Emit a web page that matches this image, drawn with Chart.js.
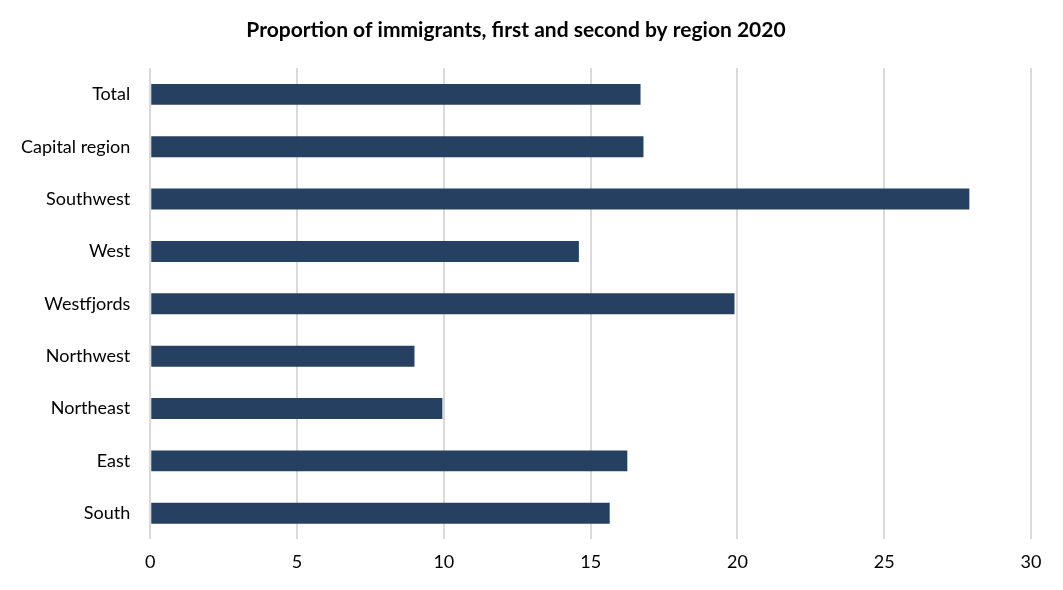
<!DOCTYPE html>
<html>
<head>
<meta charset="utf-8">
<script src="https://cdn.jsdelivr.net/npm/chart.js@4/dist/chart.umd.min.js"></script>
<style>
    html, body { margin: 0; padding: 0; background: #fff; }
    #wrap { width: 1063px; height: 590px; position: relative; }
</style>
</head>
<body>
<div id="wrap"><canvas id="chart"></canvas></div>
<script>
var regions = ['Total', 'Capital region', 'Southwest', 'West', 'Westfjords', 'Northwest', 'Northeast', 'East', 'South'];
var shares = [16.7, 16.8, 27.9, 14.6, 19.9, 9.0, 9.95, 16.25, 15.65];
var xTicks = [0, 5, 10, 15, 20, 25, 30];

var ctx = document.getElementById('chart');
new Chart(ctx, {
    type: 'bar',
    data: {
        labels: regions,
        datasets: [{
            label: 'Proportion',
            data: shares,
            backgroundColor: '#264061',
            categoryPercentage: 1,
            barPercentage: 0.4
        }]
    },
    options: {
        indexAxis: 'y',
        responsive: true,
        maintainAspectRatio: false,
        animation: false,
        layout: { padding: { top: 4, right: 32, bottom: 5, left: 1 } },
        plugins: {
            legend: { display: false },
            tooltip: { enabled: false },
            title: {
                display: true,
                text: 'Proportion of immigrants, first and second by region 2020',
                color: '#000',
                font: { family: 'Lato', size: 21, weight: 'bold' },
                padding: { top: 14, bottom: 25 }
            }
        },
        scales: {
            x: {
                min: 0,
                max: 30,
                afterBuildTicks: function(axis) {
                    axis.ticks = xTicks.map(function(v) { return { value: v }; });
                },
                grid: {
                    color: '#d9d9d9',
                    lineWidth: 2,
                    drawTicks: false
                },
                border: { display: false },
                ticks: {
                    color: '#000',
                    padding: 12,
                    font: { family: 'Lato', size: 18 }
                }
            },
            y: {
                grid: { display: false, drawTicks: false },
                border: { display: false },
                ticks: {
                    color: '#000',
                    padding: 20,
                    font: { family: 'Lato', size: 18 }
                }
            }
        }
    }
});
</script>
</body>
</html>
